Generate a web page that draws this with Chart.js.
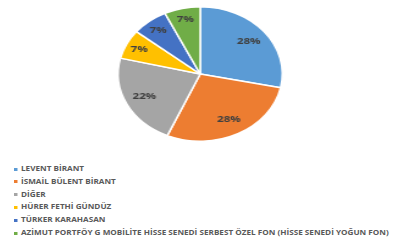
<!DOCTYPE html>
<html>
<head>
<meta charset="utf-8">
<script src="https://cdn.jsdelivr.net/npm/chart.js@4"></script>
<style>
  html, body { margin: 0; padding: 0; background: #fff; }
  #wrap { position: relative; width: 409px; height: 242px; overflow: hidden; }
  /* pie canvas is drawn narrow and stretched to get the oval look */
  #pie { position: absolute; left: 0; top: 0; width: 409px !important; height: 150px !important; }
  #legend { position: absolute; left: 14px; top: 163px; margin: 0; padding: 0; list-style: none;
            font-family: "Open Sans", sans-serif; font-weight: bold; font-size: 7px; color: #595959;
            transform: scaleX(1.165); transform-origin: 0 0; }
  #legend li { height: 12.8px; line-height: 12.8px; white-space: nowrap; }
  #legend span { display: inline-block; width: 3px; height: 3px; margin-right: 3px; vertical-align: middle; }
</style>
</head>
<body>
<div id="wrap">
  <canvas id="pie" width="335" height="150"></canvas>
  <ul id="legend"></ul>
</div>
<script>
// donnees
var labels = ['LEVENT BİRANT', 'İSMAİL BÜLENT BİRANT', 'DİĞER', 'HÜRER FETHİ GÜNDÜZ', 'TÜRKER KARAHASAN',
  'AZİMUT PORTFÖY G MOBİLİTE HİSSE SENEDİ SERBEST ÖZEL FON (HİSSE SENEDİ YOĞUN FON)'];
var values = [28, 28, 22, 7, 7, 7];
var colors = ['#5B9BD5', '#ED7D31', '#A5A5A5', '#FFC000', '#4472C4', '#70AD47'];

// labels % dans les parts
var pctLabels = {
  id: 'pctLabels',
  afterDatasetsDraw: function(chart) {
    var ctx = chart.ctx;
    var total = values.reduce(function(a, b) { return a + b; }, 0);
    ctx.save();
    ctx.font = 'bold 9.5px "Open Sans", sans-serif';
    ctx.fillStyle = '#404040';
    ctx.textAlign = 'center';
    ctx.textBaseline = 'middle';
    chart.getDatasetMeta(0).data.forEach(function(arc, i) {
      var p = arc.getProps(['x', 'y', 'startAngle', 'endAngle', 'outerRadius'], true);
      var mid = (p.startAngle + p.endAngle) / 2;
      var r = p.outerRadius * (values[i] > 20 ? 0.76 : 0.83);
      ctx.fillText(Math.round(values[i] / total * 100) + '%', p.x + Math.cos(mid) * r, p.y + Math.sin(mid) * r);
    });
    ctx.restore();
  }
};

var myChart = new Chart(document.getElementById('pie'), {
  type: 'pie',
  data: {
    labels: labels,
    datasets: [{
      data: values,
      backgroundColor: colors,
      borderColor: '#ffffff',
      borderWidth: 1.5
    }]
  },
  options: {
    responsive: false,
    animation: false,
    layout: { padding: { left: 0, right: 7, top: 6, bottom: 8 } },
    plugins: {
      legend: { display: false },
      tooltip: { enabled: false }
    }
  },
  plugins: [pctLabels]
});

// legende html
var ul = document.getElementById('legend');
labels.forEach(function(l, i) {
  var li = document.createElement('li');
  var sq = document.createElement('span');
  sq.style.background = colors[i];
  li.appendChild(sq);
  li.appendChild(document.createTextNode(l));
  ul.appendChild(li);
});
</script>
</body>
</html>
